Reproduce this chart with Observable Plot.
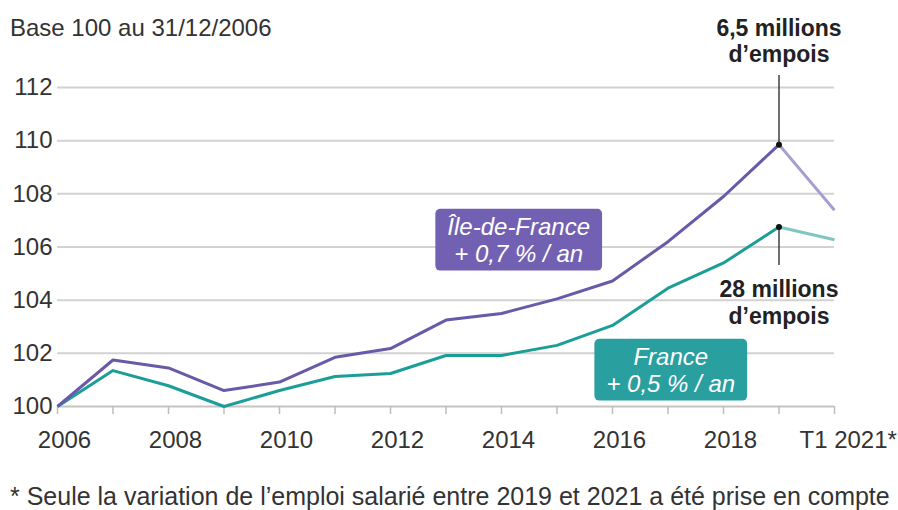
<!DOCTYPE html>
<html><head><meta charset="utf-8">
<script src="https://cdn.jsdelivr.net/npm/d3@7"></script>
<script src="https://cdn.jsdelivr.net/npm/@observablehq/plot@0.6"></script>
<style>
body{margin:0;background:#fff;font-family:"Liberation Sans",Arial,sans-serif;}
#wrap{position:relative;width:898px;height:510px;overflow:hidden;}
#title{position:absolute;left:10px;top:14px;font-size:24px;line-height:normal;color:#333;white-space:nowrap;}
#caption{position:absolute;left:10px;top:482px;font-size:25px;line-height:normal;color:#333;white-space:nowrap;}
#chart{position:absolute;left:0;top:0;}
</style></head><body>
<div id="wrap"><div id="chart"></div><div id="title">Base 100 au 31/12/2006</div><div id="caption">* Seule la variation de l’emploi salarié entre 2019 et 2021 a été prise en compte</div></div>
<script>
// x positions: 2006..2019 yearly, last point (2020 slot) = T1 2021
const years = [2006,2007,2008,2009,2010,2011,2012,2013,2014,2015,2016,2017,2018,2019,2020];
const idf   = [100,101.75,101.45,100.6,100.92,101.85,102.18,103.25,103.5,104.05,104.72,106.2,107.9,109.85,107.38];
const fra   = [100,101.35,100.78,100.0,100.6,101.13,101.24,101.92,101.92,102.3,103.05,104.45,105.4,106.75,106.27];
const seriesNames = ["Île-de-France","France"];
const darkColors  = ["#6a59a8","#1b9e97"];
const lightColors = ["#a69dd1","#7ec7c1"];
const yTicks = [100,102,104,106,108,110,112];
const xLabelYears = [2006,2008,2010,2012,2014,2016,2018];
const lastLabel = "T1 2021*";
// series label boxes (centre, data units)
const boxText  = ["Île-de-France\n+ 0,7 % / an","France\n+ 0,5 % / an"];
const boxX     = [2014.31,2017.05];
const boxY     = [106.28,101.39];
const boxColor = ["#7261b3","#2a9f9f"];
// callouts at 2019
const calloutText = ["6,5 millions\nd’empois","28 millions\nd’empois"];
const calloutEndY = [112.45,105.3];

const seriesVals = [idf, fra];
const rows = [];
seriesVals.forEach((vals, s) => {
  vals.forEach((v, i) => {
    if (i <= 13) rows.push({key: s + "-main", s, x: years[i], y: v, stroke: darkColors[s]});
    if (i >= 13) rows.push({key: s + "-recent", s, x: years[i], y: v, stroke: lightColors[s]});
  });
});
rows.sort((a, b) => b.s - a.s);
const peaks = seriesVals.map((vals, s) => ({x: 2019, y: vals[13], y2: calloutEndY[s], text: calloutText[s], s}));
const boxes = boxText.map((t, i) => ({x: boxX[i], y: boxY[i], text: t, fill: boxColor[i]}));

const chart = Plot.plot({
  width: 898, height: 465,
  marginTop: 87, marginBottom: 59, marginLeft: 57, marginRight: 64,
  style: {fontFamily: '"Liberation Sans", Arial, sans-serif', background: "transparent", overflow: "visible"},
  x: {domain: [2006, 2020], label: null},
  y: {domain: [100, 112], label: null},
  marks: [
    Plot.ruleY(yTicks.filter(d => d > 100), {stroke: "#d2d2d2", strokeWidth: 2}),
    Plot.ruleY([100], {stroke: "#c4c4c4", strokeWidth: 2}),
    Plot.axisY({ticks: yTicks, tickSize: 0, tickPadding: 5, fontSize: 24, fill: "#333", tickFormat: d => String(d)}),
    Plot.axisX({ticks: years, tickSize: 8, tickFormat: () => "", stroke: "#bdbdbd", strokeWidth: 1.5}),
    Plot.text(xLabelYears, {x: d => d, text: d => String(d), frameAnchor: "bottom", dy: 24, dx: 7, lineAnchor: "top", fontSize: 24, fill: "#333"}),
    Plot.text([lastLabel], {x: () => 2020, frameAnchor: "bottom", dy: 24, dx: -35, text: d => d, textAnchor: "start", lineAnchor: "top", fontSize: 24, fill: "#333"}),
    Plot.line(rows, {x: "x", y: "y", z: "key", stroke: "stroke", strokeWidth: 3, strokeLinejoin: "round", strokeLinecap: "butt"}),
    Plot.ruleX(peaks, {x: "x", y1: "y", y2: "y2", stroke: "#222", strokeWidth: 1.3}),
    Plot.dot(peaks, {x: "x", y: "y", r: 3, fill: "#111"}),
    Plot.text(peaks.filter(d => d.s === 0), {x: "x", y: "y2", text: "text", dy: -14, lineAnchor: "bottom", lineHeight: 1.09, fontSize: 23, fontWeight: "bold", fill: "#222"}),
    Plot.text(peaks.filter(d => d.s === 1), {x: "x", y: "y2", text: "text", dy: 13, lineAnchor: "top", lineHeight: 1.15, fontSize: 23, fontWeight: "bold", fill: "#222"}),
    Plot.text(boxes, {x: "x", y: "y", text: "text", fill: "white", fontSize: 24, fontStyle: "italic", lineHeight: 1.12})
  ]
});
document.getElementById("chart").append(chart);

// background boxes behind series labels
const svgNS = "http://www.w3.org/2000/svg";
const wanted = boxes.map(b => b.text.replace(/\n/g, ""));
chart.querySelectorAll("text").forEach(t => {
  const i = wanted.indexOf(t.textContent);
  if (i < 0) return;
  const bb = t.getBBox();
  const padX = 12, padTop = 4, padBot = 4;
  const r = document.createElementNS(svgNS, "rect");
  r.setAttribute("x", bb.x - padX);
  r.setAttribute("y", bb.y - padTop);
  r.setAttribute("width", bb.width + 2 * padX);
  r.setAttribute("height", bb.height + padTop + padBot);
  r.setAttribute("rx", 5);
  r.setAttribute("fill", boxes[i].fill);
  const tr = t.getAttribute("transform");
  if (tr) r.setAttribute("transform", tr);
  t.parentNode.insertBefore(r, t);
});
</script>
</body></html>
